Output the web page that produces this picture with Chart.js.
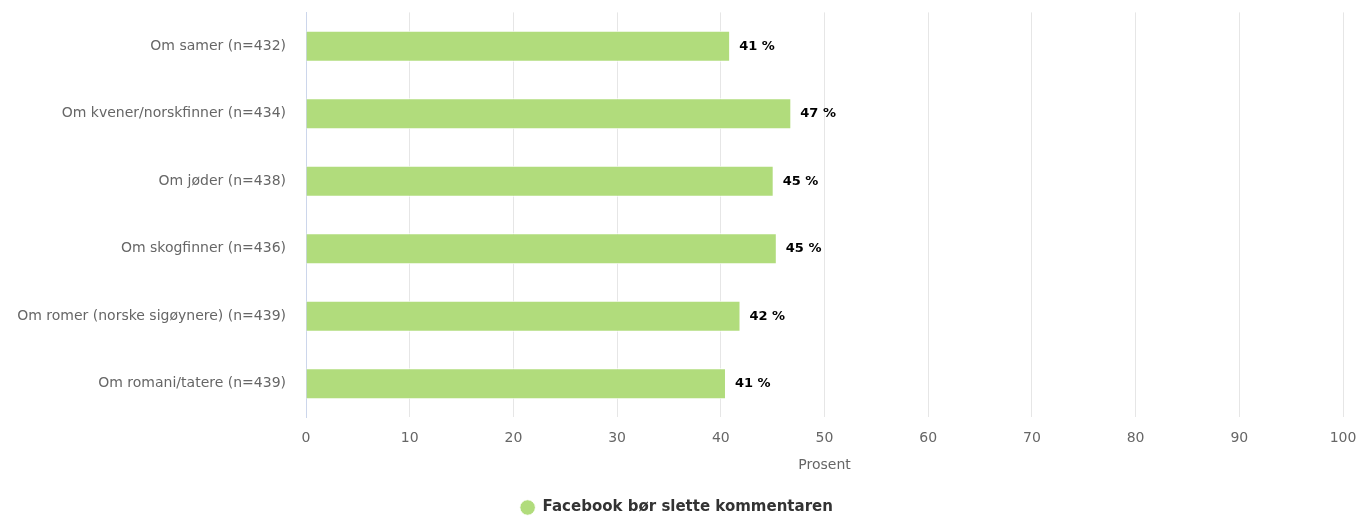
<!DOCTYPE html>
<html>
<head>
<meta charset="utf-8">
<script src="https://cdn.jsdelivr.net/npm/chart.js@4"></script>
<style>
  html, body { margin: 0; padding: 0; background: #fff; }
  #wrap { width: 1360px; height: 517px; }
</style>
</head>
<body>
<div id="wrap"><canvas id="myChart"></canvas></div>
<script>
const categories = [
  "Om samer (n=432)",
  "Om kvener/norskfinner (n=434)",
  "Om jøder (n=438)",
  "Om skogfinner (n=436)",
  "Om romer (norske sigøynere) (n=439)",
  "Om romani/tatere (n=439)"
];
const values = [40.9, 46.8, 45.1, 45.4, 41.9, 40.5];
const seriesName = "Facebook bør slette kommentaren";
const axisTitle = "Prosent";

const FONT = "'DejaVu Sans', Verdana, sans-serif";

// draws "41 %" etc. just right of each bar
const barLabels = {
  id: "barLabels",
  afterDatasetsDraw(chart) {
    const ctx = chart.ctx;
    const meta = chart.getDatasetMeta(0);
    ctx.save();
    ctx.font = "bold 13px " + FONT;
    ctx.fillStyle = "#000";
    ctx.textAlign = "left";
    ctx.textBaseline = "middle";
    meta.data.forEach(function (bar, i) {
      ctx.fillText(Math.round(values[i]) + " %", bar.x + 9, bar.y);
    });
    ctx.restore();
  }
};

// legend is centred on the full canvas in the original, not the padded box
const legendShift = {
  id: "legendShift",
  afterLayout(chart) {
    const lg = chart.legend;
    if (!lg) return;
    const dx = 5;
    lg.left += dx;
    lg.right += dx;
    lg.legendHitBoxes.forEach(function (b) { b.left += dx; });
  }
};

new Chart("myChart", {
  type: "bar",
  data: {
    labels: categories,
    datasets: [
      {
        label: seriesName,
        data: values,
        backgroundColor: "#b1dc7c",
        borderColor: "#ffffff",
        borderWidth: 1,
        barPercentage: 0.46,
        categoryPercentage: 1
      }
    ]
  },
  options: {
    indexAxis: "y",
    responsive: true,
    maintainAspectRatio: false,
    animation: false,
    layout: { padding: { top: 0, right: 17, left: 0, bottom: -8 } },
    scales: {
      x: {
        min: 0,
        max: 100,
        ticks: {
          stepSize: 10,
          color: "#666",
          padding: 0,
          font: { family: FONT, size: 14 }
        },
        grid: {
          color: function (c) { return c.index === 0 ? "#ccd6eb" : "#e6e6e6"; },
          drawTicks: true,
          tickLength: 13,
          tickColor: "rgba(0,0,0,0)"
        },
        border: { display: false },
        title: {
          display: true,
          text: axisTitle,
          color: "#666",
          padding: { top: 10, bottom: 24 },
          font: { family: FONT, size: 14 }
        }
      },
      y: {
        grid: {
          display: true,
          drawOnChartArea: false,
          drawTicks: true,
          tickLength: 16,
          tickColor: "rgba(0,0,0,0)"
        },
        border: { display: true, color: "#ccd6eb" },
        ticks: {
          color: "#666",
          padding: 4,
          font: { family: FONT, size: 14 }
        },
        afterFit: function (scale) { scale.width = 306; }
      }
    },
    plugins: {
      legend: {
        position: "bottom",
        labels: {
          usePointStyle: true,
          pointStyle: "circle",
          boxHeight: 11,
          padding: 2,
          color: "#333",
          font: { family: FONT, size: 15, weight: "bold" }
        }
      },
      tooltip: { enabled: false }
    }
  },
  plugins: [barLabels, legendShift]
});
</script>
</body>
</html>
